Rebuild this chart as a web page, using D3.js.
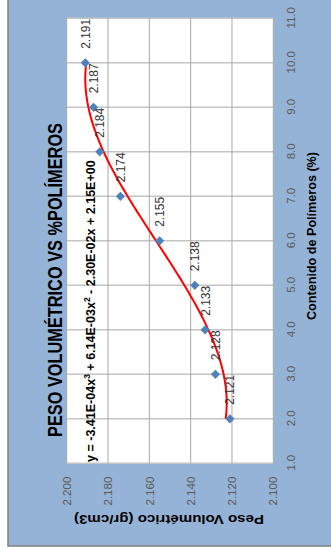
<!DOCTYPE html>
<html>
<head>
<meta charset="utf-8">
<script src="https://cdn.jsdelivr.net/npm/d3@7"></script>
<style>
  html, body { margin: 0; padding: 0; background: #ffffff; }
  svg { display: block; }
  text { font-family: "Liberation Sans", Arial, sans-serif; }
</style>
</head>
<body>
<div id="chart"></div>
<script>
// Polymer content (%) and bulk density (gr/cm3)
const polimeros = [2, 3, 4, 5, 6, 7, 8, 9, 10];
const pesoVolumetrico = [2.121, 2.128, 2.133, 2.138, 2.155, 2.174, 2.184, 2.187, 2.191];
const xTicks = [1, 2, 3, 4, 5, 6, 7, 8, 9, 10, 11];
const yTicks = [2.100, 2.120, 2.140, 2.160, 2.180, 2.200];
const chartTitle = "PESO VOLUMÉTRICO VS %POLÍMEROS";
const xTitle = "Contenido de Polímeros (%)";
const yTitle = "Peso Volumétrico (gr/cm3)";

const SW = 331, SH = 550;          // page size
const W = SH, H = SW;              // landscape chart, turned a quarter
const plot = { left: 86.7, right: 531.7, top: 66.7, bottom: 273.3 };

const svg = d3.select("#chart").append("svg")
  .attr("width", SW).attr("height", SH);

// whole chart is laid out landscape and rotated counter-clockwise
const g = svg.append("g").attr("transform", `translate(0,${SH}) rotate(-90)`);

// chart area
g.append("rect")
  .attr("x", 4).attr("y", 8).attr("width", W + 40).attr("height", H + 40)
  .attr("fill", "#95B3D7").attr("stroke", "#7f7f7f").attr("stroke-width", 1.5);

// plot area
g.append("rect")
  .attr("x", plot.left).attr("y", plot.top)
  .attr("width", plot.right - plot.left).attr("height", plot.bottom - plot.top)
  .attr("fill", "#ffffff");

const x = d3.scaleLinear().domain([1, 11]).range([plot.left, plot.right]);
const y = d3.scaleLinear().domain([2.1, 2.2]).range([plot.bottom, plot.top]);

// gridlines
g.append("g").selectAll("line").data(xTicks).join("line")
  .attr("x1", d => x(d)).attr("x2", d => x(d))
  .attr("y1", plot.top).attr("y2", plot.bottom)
  .attr("stroke", "#c4c4c4").attr("stroke-width", 1.5);
g.append("g").selectAll("line").data(yTicks).join("line")
  .attr("x1", plot.left).attr("x2", plot.right)
  .attr("y1", d => y(d)).attr("y2", d => y(d))
  .attr("stroke", "#a8a8a8").attr("stroke-width", 1);

// axes
const xAxis = g.append("g")
  .attr("transform", `translate(0,${plot.bottom})`)
  .call(d3.axisBottom(x).tickValues(xTicks).tickFormat(d3.format(".1f"))
    .tickSize(0).tickPadding(13.5));
const yAxis = g.append("g")
  .attr("transform", `translate(${plot.left},0)`)
  .call(d3.axisLeft(y).tickValues(yTicks).tickFormat(d3.format(".3f"))
    .tickSize(0).tickPadding(13.4));
[xAxis, yAxis].forEach(a => {
  a.select(".domain").remove();
  a.selectAll("text")
    .attr("fill", "#595959")
    .style("font-size", "11.5px")
    .style("font-family", "\"Liberation Sans\", Arial, sans-serif");
});

// cubic least-squares trendline
function polyFit(xs, ys, deg) {
  const n = deg + 1;
  const A = Array.from({ length: n }, () => new Array(n + 1).fill(0));
  xs.forEach((xv, k) => {
    for (let i = 0; i < n; i++) {
      for (let j = 0; j < n; j++) A[i][j] += Math.pow(xv, i + j);
      A[i][n] += ys[k] * Math.pow(xv, i);
    }
  });
  for (let c = 0; c < n; c++) {
    let p = c;
    for (let r = c + 1; r < n; r++) if (Math.abs(A[r][c]) > Math.abs(A[p][c])) p = r;
    [A[c], A[p]] = [A[p], A[c]];
    for (let r = 0; r < n; r++) {
      if (r === c) continue;
      const f = A[r][c] / A[c][c];
      for (let k = c; k <= n; k++) A[r][k] -= f * A[c][k];
    }
  }
  return A.map((row, i) => row[n] / row[i]);
}
const coef = polyFit(polimeros, pesoVolumetrico, 3);
const fitted = t => coef.reduce((s, c, i) => s + c * Math.pow(t, i), 0);
const xMin = d3.min(polimeros), xMax = d3.max(polimeros);
const curveXs = d3.range(0, 161).map(i => xMin + (xMax - xMin) * i / 160);

g.append("path")
  .datum(curveXs)
  .attr("fill", "none").attr("stroke", "#ff0000").attr("stroke-width", 2)
  .attr("d", d3.line().x(d => x(d)).y(d => y(fitted(d))).curve(d3.curveLinear));

// markers
const pts = polimeros.map((p, i) => ({ p, v: pesoVolumetrico[i] }));
g.append("g").selectAll("path").data(pts).join("path")
  .attr("d", d3.symbol(d3.symbolSquare, 42))
  .attr("transform", d => `translate(${x(d.p)},${y(d.v)}) rotate(45)`)
  .attr("fill", "#4F81BD");

// data labels
g.append("g").selectAll("text").data(pts).join("text")
  .attr("x", d => x(d.p) + 14)
  .attr("y", d => y(d.v) + 4.5)
  .attr("fill", "#333333")
  .style("font-size", "12px")
  .text(d => d3.format(".3f")(d.v));

// chart title
g.append("text")
  .attr("x", 270).attr("y", 62)
  .attr("text-anchor", "middle")
  .attr("textLength", 314).attr("lengthAdjust", "spacingAndGlyphs")
  .style("font-size", "21px").style("font-weight", "bold")
  .attr("fill", "#000000")
  .text(chartTitle);

// trendline equation
const eq = g.append("text")
  .attr("x", 0).attr("y", 0)
  .style("font-size", "12.5px").style("font-weight", "bold")
  .attr("fill", "#000000");
const eqParts = [
  ["y = -3.41E-04x", false], ["3", true], [" + 6.14E-03x", false], ["2", true],
  [" - 2.30E-02x + 2.15E+00", false]
];
eqParts.forEach(([s, sup]) => {
  const t = eq.append("tspan").text(s);
  if (sup) t.attr("dy", -5).style("font-size", "8.5px");
  else t.attr("dy", eq.selectAll("tspan").size() > 1 ? 5 : 0);
});
const eqLen = eq.node().getComputedTextLength();
eq.attr("transform", `translate(88,94.5) scale(${302 / eqLen},1)`);

// axis titles
g.append("text")
  .attr("x", 314).attr("y", 316)
  .attr("text-anchor", "middle")
  .attr("textLength", 168).attr("lengthAdjust", "spacingAndGlyphs")
  .style("font-size", "13px").style("font-weight", "bold")
  .attr("fill", "#000000")
  .text(xTitle);

g.append("text")
  .attr("transform", "translate(35,169) rotate(-90)")
  .attr("text-anchor", "middle")
  .attr("textLength", 190).attr("lengthAdjust", "spacingAndGlyphs")
  .style("font-size", "13px").style("font-weight", "bold")
  .attr("fill", "#000000")
  .text(yTitle);
</script>
</body>
</html>
